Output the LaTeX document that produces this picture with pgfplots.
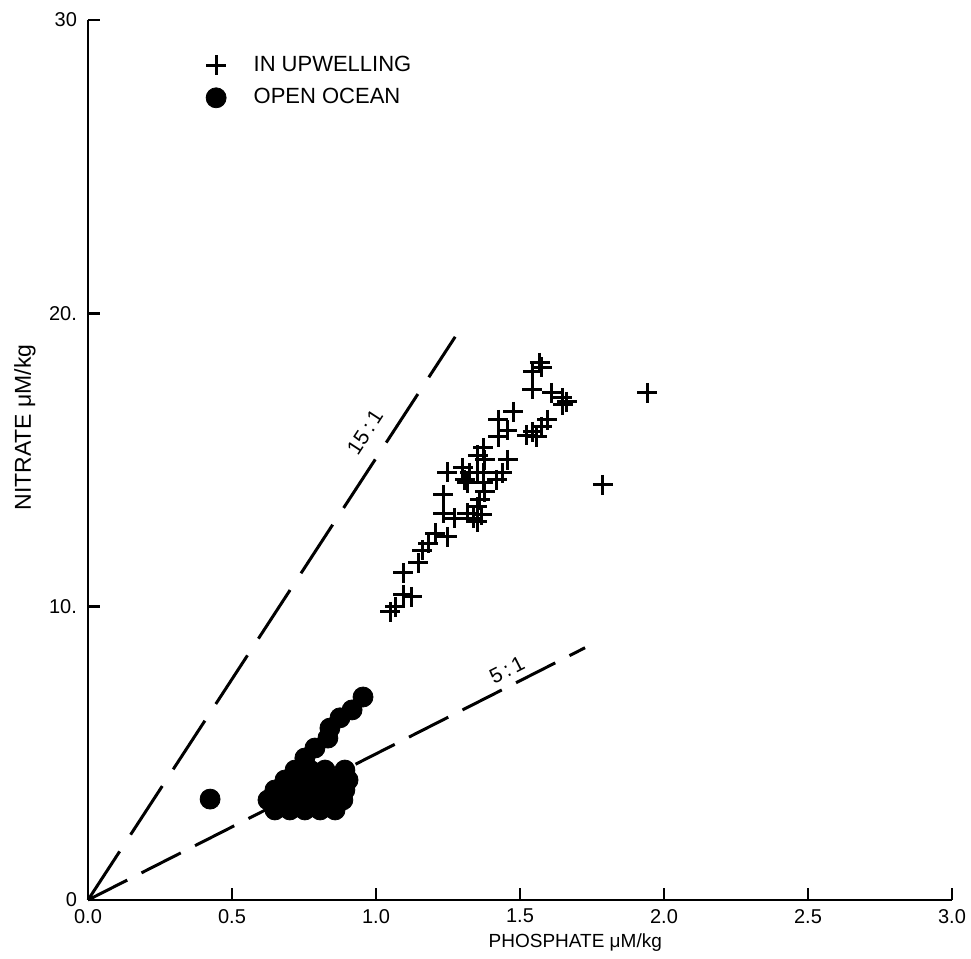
\documentclass[border=0pt]{standalone}
\usepackage{pgfplots}
\pgfplotsset{compat=1.18}
\usepackage{fontspec}
\setmainfont{Liberation Sans}
\begin{document}
\begin{tikzpicture}
\path[use as bounding box] (-44pt,-29.5pt) rectangle (441.5pt,450pt);
\begin{axis}[
  at={(0,0)}, anchor=south west,
  scale only axis, width=432pt, height=440pt,
  xmin=0, xmax=3, ymin=0, ymax=30,
  axis lines*=left,
  axis line style={line width=1.2pt},
  xtick={0,0.5,1,1.5,2,2.5,3},
  xticklabels={0.0,0.5,1.0,1.5,2.0,2.5,3.0},
  ytick={0,10,20,30},
  yticklabels={0,10.,20.,30},
  tick align=inside, major tick length=6pt,
  tick style={line width=1.2pt, black},
  ticklabel style={font=\fontsize{10}{11}\selectfont},
  xticklabel style={yshift=-1pt},
  yticklabel style={xshift=-2pt},
  xlabel={PHOSPHATE μM/kg},
  xlabel style={font=\fontsize{9.5}{11}\selectfont, at={(axis description cs:0.564,-0.048)}, anchor=center},
  ylabel={NITRATE μM/kg},
  ylabel style={font=\fontsize{11.5}{13}\selectfont, at={(axis description cs:-0.073,0.537)}, anchor=center},
  legend style={at={(axis cs:0.355,29.05)}, anchor=north west, draw=none, fill=none,
    font=\fontsize{11}{13}\selectfont, row sep=3pt},
  legend cell align=left,
  legend image code/.code={\draw[#1] plot coordinates {(0pt,0pt)}; \path (-9pt,0pt) (16pt,0pt);},
  clip=false,
]
\addplot[forget plot, black, line width=1.5pt, dash pattern=on 29pt off 10pt] coordinates {(0,0) (1.275,19.2)};
\addplot[forget plot, black, line width=1.5pt, dash pattern=on 22pt off 8pt] coordinates {(0,0) (1.726,8.6)};
\addplot[only marks, mark=+, mark size=5pt, line width=1.5pt, black] coordinates {
(1.569,18.31) (1.545,18.00) (1.576,18.17) (1.542,17.42) (1.611,17.29) (1.646,17.12)
(1.663,16.98) (1.649,16.88) (1.941,17.29) (1.476,16.64) (1.424,16.37) (1.455,16.02)
(1.424,15.79) (1.594,16.37) (1.576,16.13) (1.545,15.96) (1.524,15.85) (1.559,15.79)
(1.372,15.41) (1.354,15.17) (1.378,15.00) (1.458,15.00) (1.247,14.59) (1.302,14.73)
(1.326,14.56) (1.351,14.59) (1.372,14.56) (1.309,14.32) (1.316,14.22) (1.372,14.22)
(1.438,14.56) (1.420,14.32) (1.788,14.15) (1.233,13.81) (1.378,13.91) (1.361,13.64)
(1.351,13.40) (1.233,13.19) (1.274,13.02) (1.316,13.19) (1.337,13.02) (1.368,13.13)
(1.351,12.89) (1.205,12.51) (1.247,12.38) (1.181,12.17) (1.160,11.93) (1.146,11.49)
(1.094,11.15) (1.125,10.33) (1.094,10.40) (1.066,9.99) (1.049,9.82)
};
\addlegendentry{IN UPWELLING}
\addplot[only marks, mark=*, mark size=5pt, black, mark options={fill=black, draw=black}] coordinates {
(0.424,3.44)
(0.649,3.07) (0.701,3.07) (0.753,3.07) (0.806,3.07) (0.858,3.07)
(0.625,3.41) (0.677,3.41) (0.729,3.41) (0.781,3.41) (0.833,3.41) (0.885,3.41)
(0.649,3.75) (0.701,3.75) (0.753,3.75) (0.806,3.75) (0.858,3.75) (0.892,3.75)
(0.684,4.09) (0.736,4.09) (0.788,4.09) (0.840,4.09) (0.903,4.09)
(0.719,4.43) (0.771,4.43) (0.823,4.43) (0.892,4.43)
(0.753,4.84) (0.788,5.18) (0.833,5.52) (0.840,5.86) (0.875,6.21) (0.917,6.48) (0.955,6.92)
};
\addlegendentry{OPEN OCEAN}
\node[rotate=56.8, font=\fontsize{10.5}{12}\selectfont] at (axis cs:0.962,15.95) {15\,:\,1};
\node[rotate=27, font=\fontsize{10.5}{12}\selectfont] at (axis cs:1.455,7.85) {5\,:\,1};
\end{axis}
\end{tikzpicture}
\end{document}
